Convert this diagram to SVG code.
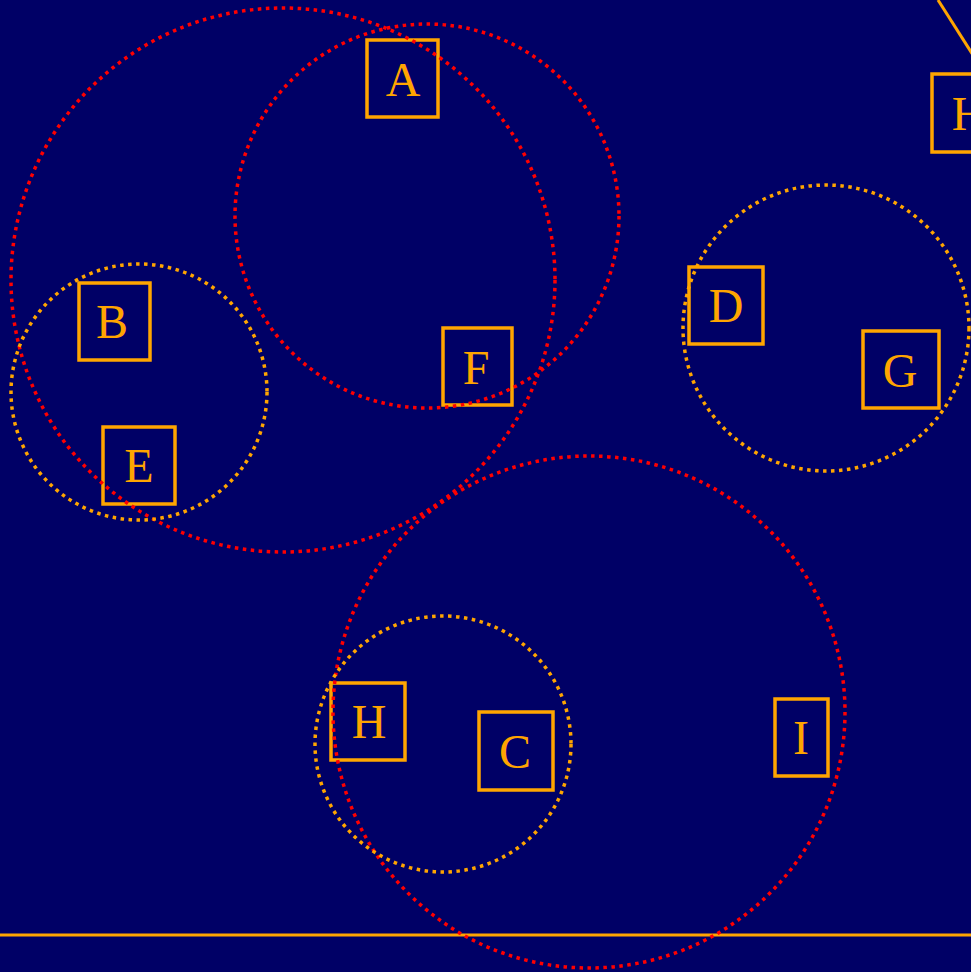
<svg xmlns="http://www.w3.org/2000/svg" width="971" height="972" viewBox="0 0 971 972">
<style>
.box{fill:none;stroke:#FFA500;stroke-width:3.5}
.lbl{font-family:"Liberation Serif",serif;font-size:48px;fill:#FFA500;text-anchor:middle}
.cr{fill:none;stroke:#FF0000;stroke-width:3.5;stroke-dasharray:3.5 4.5}
.co{fill:none;stroke:#FFA500;stroke-width:3.5;stroke-dasharray:3.5 4.5}
.edge{fill:none;stroke:#FFA500;stroke-width:3}
</style>
<rect x="0" y="0" width="971" height="972" fill="#000066"/>
<g id="connectors">
<line class="edge" x1="938" y1="0" x2="973" y2="55"/>
<line class="edge" x1="0" y1="935" x2="971" y2="935" stroke-width="5"/>
</g>
<g id="node-A"><rect class="box" x="367" y="40" width="71" height="77"/><text class="lbl" x="403" y="96">A</text></g>
<g id="node-B"><rect class="box" x="79" y="283" width="71" height="77"/><text class="lbl" x="112" y="338">B</text></g>
<g id="node-E"><rect class="box" x="103" y="427" width="72" height="77"/><text class="lbl" x="139" y="482">E</text></g>
<g id="node-F"><rect class="box" x="443" y="328" width="69" height="77"/><text class="lbl" x="476" y="384">F</text></g>
<g id="node-D"><rect class="box" x="689" y="267" width="74" height="77"/><text class="lbl" x="726" y="322">D</text></g>
<g id="node-G"><rect class="box" x="863" y="331" width="76" height="77"/><text class="lbl" x="900" y="387">G</text></g>
<g id="node-H"><rect class="box" x="331" y="683" width="74" height="77"/><text class="lbl" x="369" y="738">H</text></g>
<g id="node-C"><rect class="box" x="479" y="712" width="74" height="78"/><text class="lbl" x="515" y="768">C</text></g>
<g id="node-I"><rect class="box" x="775" y="699" width="53" height="77"/><text class="lbl" x="801" y="754">I</text></g>
<g id="node-H2"><rect class="box" x="932" y="74" width="74" height="78"/><text class="lbl" x="969" y="130">H</text></g>
<g id="clusters">
<circle class="cr" cx="283" cy="280" r="272"/>
<circle class="cr" cx="427" cy="216" r="192"/>
<circle class="co" cx="139" cy="392" r="128"/>
<circle class="co" cx="826" cy="328" r="143"/>
<circle class="cr" cx="589" cy="712" r="256"/>
<circle class="co" cx="443" cy="744" r="128"/>
</g>
</svg>
